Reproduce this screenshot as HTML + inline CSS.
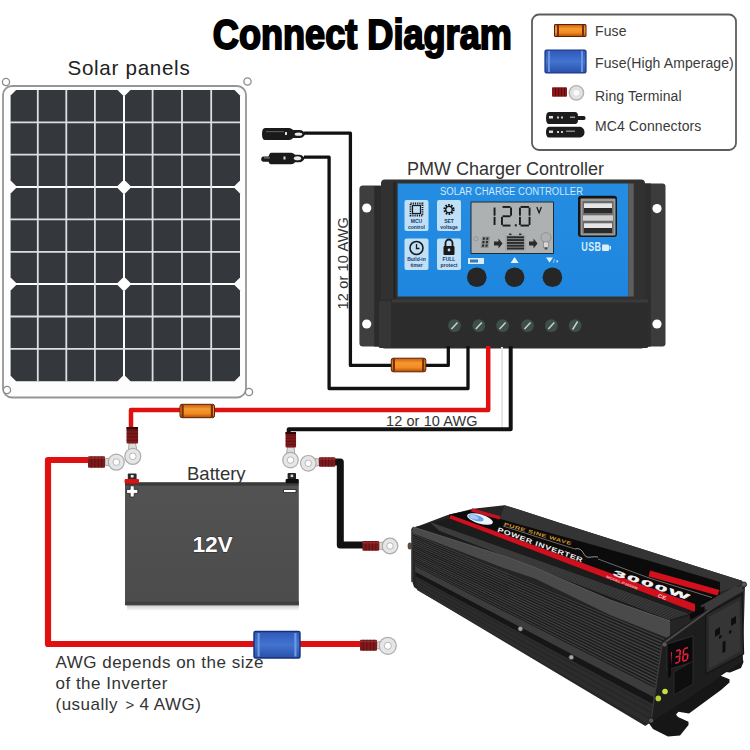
<!DOCTYPE html>
<html><head><meta charset="utf-8">
<style>
html,body{margin:0;padding:0;background:#fff;width:750px;height:750px;overflow:hidden}
svg{display:block}
text{font-family:"Liberation Sans",sans-serif}
</style></head>
<body>
<svg width="750" height="750" viewBox="0 0 750 750">
<defs>
<linearGradient id="fuseG" x1="0" y1="0" x2="0" y2="1">
<stop offset="0" stop-color="#c85a10"/><stop offset="0.35" stop-color="#f59a30"/><stop offset="0.7" stop-color="#f08a20"/><stop offset="1" stop-color="#b04a08"/>
</linearGradient>
<linearGradient id="blueFuseG" x1="0" y1="0" x2="0" y2="1">
<stop offset="0" stop-color="#2f58b8"/><stop offset="0.5" stop-color="#4274d0"/><stop offset="1" stop-color="#2a50a8"/>
</linearGradient>
<linearGradient id="batG" x1="0" y1="0" x2="0" y2="1">
<stop offset="0" stop-color="#3a3a3a"/><stop offset="0.025" stop-color="#3a3a3a"/><stop offset="0.03" stop-color="#525252"/><stop offset="1" stop-color="#4c4c4c"/>
</linearGradient>
<linearGradient id="blueP" x1="0" y1="0" x2="0" y2="1">
<stop offset="0" stop-color="#258ee2"/><stop offset="1" stop-color="#1e86de"/>
</linearGradient>
<g id="ring">
<circle r="7.5" fill="#e4e4e4" stroke="#9a9a9a" stroke-width="1.2"/>
<circle r="3.3" fill="#fff" stroke="#8a8a8a" stroke-width="1"/>
</g>
</defs>

<!-- ============ TITLE ============ -->
<text x="0" y="0" font-size="42.5" font-weight="bold" fill="#000" stroke="#000" stroke-width="2" transform="translate(212.8,48.6) scale(0.85,1)">Connect Diagram</text>

<!-- ============ LEGEND ============ -->
<rect x="532" y="14.5" width="204" height="135.5" rx="7" fill="#fff" stroke="#5c5c5c" stroke-width="1.8"/>
<rect x="554.5" y="24.5" width="31.5" height="12" rx="0.5" fill="url(#fuseG)" stroke="#5a2206" stroke-width="1"/>
<rect x="557" y="25" width="2" height="11" fill="#7a3008"/><rect x="582" y="25" width="2" height="11" fill="#7a3008"/>
<rect x="545" y="50" width="41" height="23" rx="1.5" fill="url(#blueFuseG)" stroke="#1a3580" stroke-width="1.2"/>
<rect x="548" y="51" width="2" height="21" fill="#6a95e0"/><rect x="581" y="51" width="2" height="21" fill="#6a95e0"/>
<rect x="552" y="87.2" width="15" height="9.6" rx="1" fill="#8a1818"/>
<rect x="555" y="88" width="1" height="8" fill="#5a0a0a"/><rect x="558" y="88" width="1" height="8" fill="#5a0a0a"/><rect x="561" y="88" width="1" height="8" fill="#5a0a0a"/><rect x="564" y="88" width="1" height="8" fill="#5a0a0a"/>
<circle cx="576.4" cy="92.8" r="7.2" fill="#e2e2e2" stroke="#b4b4b4" stroke-width="1.4"/>
<circle cx="576.4" cy="92.8" r="2.8" fill="#fafafa"/>
<path d="M549 112h26c2 0 3 1.5 3 4h6c1 0 1.5 1 1.5 2s-0.5 2-1.5 2h-6c0 2.5-1 4-3 4h-26c-2 0-3-2-3-6s1-6 3-6z" fill="#1c1c1c"/>
<rect x="549" y="116" width="4" height="2.5" fill="#ddd"/><rect x="557" y="116.5" width="2" height="2" fill="#ccc"/><rect x="561" y="116.5" width="2" height="2" fill="#ccc"/><rect x="570" y="116.5" width="5" height="1.5" fill="#999"/>
<path d="M549 126.8h30c3 0 5.5 2 5.5 5.4s-2.5 5.4-5.5 5.4h-30c-2 0-3-2.4-3-5.4s1-5.4 3-5.4z" fill="#1c1c1c"/>
<rect x="549" y="130.5" width="4" height="2.5" fill="#ddd"/><rect x="557" y="131" width="2" height="2" fill="#ccc"/><rect x="561" y="131" width="2" height="2" fill="#ccc"/><rect x="566" y="130.5" width="9" height="1.5" fill="#888"/>
<text x="595" y="36" font-size="14" fill="#3a3a3a" letter-spacing="0.1">Fuse</text>
<text x="595" y="67.5" font-size="14" fill="#3a3a3a" letter-spacing="0.1">Fuse(High Amperage)</text>
<text x="595" y="100.5" font-size="14" fill="#3a3a3a" letter-spacing="0.1">Ring Terminal</text>
<text x="595" y="130.5" font-size="14" fill="#3a3a3a" letter-spacing="0.1">MC4 Connectors</text>

<!-- ============ SOLAR PANEL ============ -->
<text x="67.5" y="74.5" font-size="20.6" fill="#222" letter-spacing="0.7">Solar panels</text>
<g id="panel">
<rect x="3" y="86" width="243" height="311.5" rx="9" fill="#fdfdfd" stroke="#959595" stroke-width="1.8"/>
<circle cx="6" cy="82" r="3.6" fill="#fff" stroke="#8a8a8a" stroke-width="1.3"/>
<circle cx="247.5" cy="81.5" r="3.6" fill="#fff" stroke="#8a8a8a" stroke-width="1.3"/>
<circle cx="7" cy="390" r="3.6" fill="#fff" stroke="#8a8a8a" stroke-width="1.3"/>
<circle cx="249" cy="392" r="3.6" fill="#fff" stroke="#8a8a8a" stroke-width="1.3"/>
<polygon points="16.1,90.0 117.5,90.0 123.0,95.5 123.0,180.5 117.5,186.0 16.1,186.0 10.6,180.5 10.6,95.5" fill="#34383c"/>
<polygon points="16.1,188.0 117.5,188.0 123.0,193.5 123.0,277.5 117.5,283.0 16.1,283.0 10.6,277.5 10.6,193.5" fill="#34383c"/>
<polygon points="16.1,285.0 117.5,285.0 123.0,290.5 123.0,375.7 117.5,381.2 16.1,381.2 10.6,375.7 10.6,290.5" fill="#34383c"/>
<polygon points="130.5,90.0 234.5,90.0 240.0,95.5 240.0,180.5 234.5,186.0 130.5,186.0 125.0,180.5 125.0,95.5" fill="#34383c"/>
<polygon points="130.5,188.0 234.5,188.0 240.0,193.5 240.0,277.5 234.5,283.0 130.5,283.0 125.0,277.5 125.0,193.5" fill="#34383c"/>
<polygon points="130.5,285.0 234.5,285.0 240.0,290.5 240.0,375.7 234.5,381.2 130.5,381.2 125.0,375.7 125.0,290.5" fill="#34383c"/>
<path d="M37.8 90V381.2 M66.3 90V381.2 M94.9 90V381.2 M152.6 90V381.2 M182.0 90V381.2 M211.2 90V381.2 M10 122.3H240 M10 154.7H240 M10 219.4H240 M10 251.8H240 M10 316.5H240 M10 348.8H240" stroke="#dedede" stroke-width="1.8" fill="none"/>
</g>

<!-- ============ CONTROLLER ============ -->
<text x="407" y="175" font-size="18" fill="#333">PMW Charger Controller</text>
<g id="ctrl">
<!-- flanges -->
<rect x="359.4" y="185.6" width="24" height="161" rx="3.5" fill="#3e3e3f"/>
<rect x="374.2" y="186" width="7.5" height="160.5" fill="#2b2b2b"/>
<circle cx="366.7" cy="208" r="4.6" fill="#fff"/>
<circle cx="366.7" cy="324" r="4.6" fill="#fff"/>
<rect x="641" y="183.5" width="24.5" height="163" rx="3" fill="#3c3c3c"/>
<rect x="643" y="183.5" width="8" height="163" fill="#2e2e2e"/>
<circle cx="657" cy="208.6" r="4.6" fill="#fff"/>
<circle cx="657" cy="324" r="4.6" fill="#fff"/>
<!-- main body -->
<rect x="381" y="179.5" width="264" height="169" rx="4" fill="#313132"/>
<rect x="393.5" y="182" width="2" height="118" fill="#222"/>
<!-- blue face -->
<rect x="397.7" y="183.5" width="230.5" height="113" fill="url(#blueP)"/>
<rect x="628.2" y="183.5" width="5.5" height="113" fill="#5e5e5e"/>
<text x="440" y="194.5" font-size="10" fill="#cfe8fb" textLength="143" lengthAdjust="spacingAndGlyphs">SOLAR CHARGE CONTROLLER</text>
<!-- icon boxes -->
<rect x="404.5" y="200" width="24" height="31" rx="2" fill="#bfe0f7"/>
<rect x="437" y="200" width="24" height="31" rx="2" fill="#bfe0f7"/>
<rect x="404.5" y="238.6" width="24" height="31.5" rx="2" fill="#bfe0f7"/>
<rect x="437" y="238.6" width="24" height="31.5" rx="2" fill="#bfe0f7"/>
<!-- MCU chip icon -->
<rect x="410.5" y="203.5" width="12" height="12" fill="none" stroke="#1a1a1a" stroke-width="1.8" stroke-dasharray="1.2 1"/>
<rect x="412.5" y="205.5" width="8" height="8" fill="none" stroke="#1a1a1a" stroke-width="1.2"/>
<text x="416.5" y="222.5" font-size="5" font-weight="bold" fill="#1a3a6a" text-anchor="middle">MCU</text>
<text x="416.5" y="228.5" font-size="5" font-weight="bold" fill="#1a3a6a" text-anchor="middle">control</text>
<!-- gear -->
<circle cx="449" cy="209.5" r="4.3" fill="none" stroke="#1a1a1a" stroke-width="2.6" stroke-dasharray="1.6 1.1"/>
<circle cx="449" cy="209.5" r="3.2" fill="none" stroke="#1a1a1a" stroke-width="1.3"/>
<text x="449" y="222.5" font-size="5" font-weight="bold" fill="#1a3a6a" text-anchor="middle">SET</text>
<text x="449" y="228.5" font-size="5" font-weight="bold" fill="#1a3a6a" text-anchor="middle">voltage</text>
<!-- clock -->
<circle cx="416.5" cy="248" r="6.5" fill="none" stroke="#1a1a1a" stroke-width="1.6"/>
<path d="M416.5 244v4.5h3" fill="none" stroke="#1a1a1a" stroke-width="1.3"/>
<text x="416.5" y="261" font-size="5" font-weight="bold" fill="#1a3a6a" text-anchor="middle">Build-in</text>
<text x="416.5" y="267" font-size="5" font-weight="bold" fill="#1a3a6a" text-anchor="middle">timer</text>
<!-- lock -->
<path d="M445.5 246v-3a3.5 3.5 0 0 1 7 0v3" fill="none" stroke="#1a1a1a" stroke-width="1.8"/>
<rect x="443.5" y="246" width="11" height="9" rx="1" fill="#1a1a1a"/>
<circle cx="449" cy="250" r="1.4" fill="#bfe0f7"/>
<text x="449" y="261" font-size="5" font-weight="bold" fill="#1a3a6a" text-anchor="middle">FULL</text>
<text x="449" y="267" font-size="5" font-weight="bold" fill="#1a3a6a" text-anchor="middle">protect</text>
<!-- LCD -->
<rect x="470.5" y="201.5" width="83.5" height="52.5" rx="1" fill="#1c2a3a"/>
<rect x="471.5" y="202.5" width="81.5" height="50.5" fill="#aeb1b1"/>
<rect x="493.60" y="207.55" width="1.90" height="8.10" fill="#1a1a1a"/>
<rect x="493.60" y="216.85" width="1.90" height="8.10" fill="#1a1a1a"/>
<rect x="502.55" y="206.00" width="7.90" height="1.90" fill="#1a1a1a"/>
<rect x="510.10" y="207.55" width="1.90" height="8.10" fill="#1a1a1a"/>
<rect x="502.55" y="215.30" width="7.90" height="1.90" fill="#1a1a1a"/>
<rect x="501.00" y="216.85" width="1.90" height="8.10" fill="#1a1a1a"/>
<rect x="502.55" y="224.60" width="7.90" height="1.90" fill="#1a1a1a"/>
<rect x="514.8" y="224.3" width="2" height="2" fill="#1a1a1a"/>
<rect x="520.55" y="206.00" width="8.40" height="1.90" fill="#1a1a1a"/>
<rect x="528.60" y="207.55" width="1.90" height="8.10" fill="#1a1a1a"/>
<rect x="528.60" y="216.85" width="1.90" height="8.10" fill="#1a1a1a"/>
<rect x="520.55" y="224.60" width="8.40" height="1.90" fill="#1a1a1a"/>
<rect x="519.00" y="216.85" width="1.90" height="8.10" fill="#1a1a1a"/>
<rect x="519.00" y="207.55" width="1.90" height="8.10" fill="#1a1a1a"/>
<path d="M536.8 207l2.3 5.8 2.3-5.8" fill="none" stroke="#1a1a1a" stroke-width="1.3"/>
<!-- lcd bottom row icons -->
<circle cx="475.8" cy="238.7" r="2.2" fill="none" stroke="#8a8c8c" stroke-width="0.7"/>
<g fill="#2a2a2a">
<path d="M482 236.5h8l-1.5 11.5h-8z" fill="#8f9292"/>
<path d="M483 237.5h2l-0.3 2.2h-2zM486.5 237.5h2l-0.3 2.2h-2zM482.6 241h2l-0.3 2.2h-2zM486.1 241h2l-0.3 2.2h-2zM482.2 244.5h2l-0.3 2.2h-2zM485.7 244.5h2l-0.3 2.2h-2z"/>
<path d="M494 241.5h4.5v-3l4 5-4 5v-3h-4.5z"/>
<rect x="509" y="233.6" width="2.5" height="1.5"/><rect x="519" y="233.6" width="2.5" height="1.5"/>
<rect x="505.5" y="235.3" width="20" height="15.3" fill="#9c9f9f"/>
<rect x="507" y="236.3" width="17" height="2"/><rect x="507" y="239.1" width="17" height="2"/><rect x="507" y="241.9" width="17" height="2"/><rect x="507" y="244.7" width="17" height="2"/><rect x="507" y="247.5" width="17" height="2"/>
<path d="M529 241.5h4.5v-3l4 5-4 5v-3h-4.5z"/>
<circle cx="546" cy="237.6" r="5" fill="none" stroke="#8a8c8c" stroke-width="0.8"/>
<rect x="543.6" y="242" width="4.8" height="5.5" fill="#d8d8d8" stroke="#6a6a6a" stroke-width="0.5"/>
<rect x="544.6" y="247.5" width="2.8" height="2" fill="#4a4a4a"/>
</g>
<!-- USB -->
<rect x="578" y="195.7" width="39" height="41.3" rx="3" fill="#151515"/>
<rect x="580.5" y="198.5" width="35" height="37" rx="1" fill="#9a9a9a"/>
<rect x="582.5" y="201" width="31" height="32.5" fill="#6a6a6a"/>
<rect x="584" y="203.3" width="28" height="4.7" fill="#e6e6e6"/>
<rect x="584" y="208" width="28" height="5" fill="#2a2a2a"/>
<rect x="583" y="215.3" width="30" height="5.4" fill="#cfcfcf"/>
<rect x="584" y="223.3" width="28" height="4.7" fill="#e6e6e6"/>
<rect x="584" y="228" width="28" height="5" fill="#2a2a2a"/>
<text x="0" y="0" font-size="12" font-weight="bold" fill="#d8ecfb" transform="translate(581.3,251.3) scale(0.75,1)" letter-spacing="0.5">USB</text>
<rect x="602" y="244.5" width="7" height="6.5" rx="1" fill="#d8ecfb"/>
<rect x="609.5" y="246" width="1.5" height="3.5" fill="#d8ecfb"/>
<!-- button labels -->
<rect x="468" y="258" width="16" height="6" fill="#d8ecfb"/>
<rect x="470" y="259.5" width="8" height="3" fill="#3a7ab8"/>
<path d="M514.6 257l4 6h-8z" fill="#e8f4fc"/>
<path d="M546 257.5h7l-3.5 5z" fill="#e8f4fc"/>
<text x="553" y="263" font-size="6" fill="#e8f4fc">/◑</text>
<!-- buttons -->
<circle cx="476.8" cy="277.3" r="9.8" fill="#262626"/>
<circle cx="514.6" cy="277.3" r="9.8" fill="#262626"/>
<circle cx="552.4" cy="277.3" r="9.8" fill="#262626"/>
<!-- terminal block -->
<rect x="378.5" y="299.5" width="270" height="48.5" rx="2" fill="#2c2c2c"/>
<rect x="379" y="301" width="12" height="46.5" rx="1.5" fill="#363636"/>
<rect x="392" y="299.5" width="256" height="3" fill="#3a3a3a"/>
<g>
<circle cx="454.5" cy="325.6" r="6.4" fill="#3e4e48"/>
<circle cx="478.8" cy="325.6" r="6.4" fill="#3e4e48"/>
<circle cx="502.6" cy="325.6" r="6.4" fill="#3e4e48"/>
<circle cx="527.5" cy="325.6" r="6.4" fill="#3e4e48"/>
<circle cx="551.3" cy="325.6" r="6.4" fill="#3e4e48"/>
<circle cx="575.1" cy="325.6" r="6.4" fill="#3e4e48"/>
</g>
<g stroke="#c8d0cc" stroke-width="1.5">
<path d="M451.5 329l6-6.5M475.8 329l6-6.5M499.6 329l6-6.5M524.5 329l6-6.5M548.3 329l6-6.5M572.6 329.5l5-8"/>
</g>

</g>

<!-- ============ WIRES ============ -->
<g id="wires">
<path d="M502 347V430" fill="none" stroke="#e6e6e6" stroke-width="2" stroke-linejoin="round"/>
<path d="M304 133.2H350.4V365.4H448.3V346" fill="none" stroke="#111" stroke-width="3.3" stroke-linejoin="round"/>
<path d="M304 157.2H329.1V388.5H468V346" fill="none" stroke="#111" stroke-width="3.3" stroke-linejoin="round"/>
<rect x="391.3" y="358.2" width="34.5" height="13.600000000000023" rx="2" fill="url(#fuseG)" stroke="#5a2206" stroke-width="1"/><rect x="392.8" y="358.7" width="2.2" height="12.600000000000023" fill="#7a3008"/><rect x="422.1" y="358.7" width="2.2" height="12.600000000000023" fill="#7a3008"/>
<path d="M488.2 346V410H131V428" fill="none" stroke="#e01010" stroke-width="4.5" stroke-linejoin="round"/>
<rect x="180" y="404.3" width="34.5" height="13.399999999999977" rx="2" fill="url(#fuseG)" stroke="#5a2206" stroke-width="1"/><rect x="181.5" y="404.8" width="2.2" height="12.399999999999977" fill="#7a3008"/><rect x="210.8" y="404.8" width="2.2" height="12.399999999999977" fill="#7a3008"/>
<polygon points="129.1,443.1 135.5,442.9 137.8,456.1 127.8,456.5" fill="#dcdcdc" stroke="#a8a8a8" stroke-width="1"/><circle cx="132.8" cy="456.3" r="8" fill="#e6e6e6" stroke="#acacac" stroke-width="1.2"/><circle cx="132.8" cy="456.3" r="3.36" fill="#fdfdfd" stroke="#a8a8a8" stroke-width="0.8"/>
<rect x="126.55000000000001" y="427" width="11.5" height="16.5" rx="1" fill="#7e1a1c"/><rect x="126.55000000000001" y="429.8" width="11.5" height="1" fill="#4e0c0e" opacity="0.6"/><rect x="126.55000000000001" y="433.1" width="11.5" height="1" fill="#4e0c0e" opacity="0.6"/><rect x="126.55000000000001" y="436.4" width="11.5" height="1" fill="#4e0c0e" opacity="0.6"/><rect x="126.55000000000001" y="439.7" width="11.5" height="1" fill="#4e0c0e" opacity="0.6"/>
<rect x="126.5" y="427" width="11.5" height="2.2" fill="#2a0808"/>
<path d="M510.7 346V429.3H288.7V433" fill="none" stroke="#111" stroke-width="4" stroke-linejoin="round"/>
<polygon points="287.6,446.9 294.0,447.1 295.5,460.2 285.5,460.0" fill="#dcdcdc" stroke="#a8a8a8" stroke-width="1"/><circle cx="290.5" cy="460.1" r="7.8" fill="#e6e6e6" stroke="#acacac" stroke-width="1.2"/><circle cx="290.5" cy="460.1" r="3.28" fill="#fdfdfd" stroke="#a8a8a8" stroke-width="0.8"/>
<rect x="285.55" y="432" width="10.5" height="15.5" rx="1" fill="#7e1a1c"/><rect x="285.55" y="434.6" width="10.5" height="1" fill="#4e0c0e" opacity="0.6"/><rect x="285.55" y="437.7" width="10.5" height="1" fill="#4e0c0e" opacity="0.6"/><rect x="285.55" y="440.8" width="10.5" height="1" fill="#4e0c0e" opacity="0.6"/><rect x="285.55" y="443.9" width="10.5" height="1" fill="#4e0c0e" opacity="0.6"/>
<rect x="285.5" y="432" width="10.5" height="2" fill="#2a0808"/>
<polygon points="318.6,458.8 319.4,465.2 308.9,468.3 307.7,458.3" fill="#dcdcdc" stroke="#a8a8a8" stroke-width="1"/><circle cx="308.3" cy="463.3" r="7.8" fill="#e6e6e6" stroke="#acacac" stroke-width="1.2"/><circle cx="308.3" cy="463.3" r="3.28" fill="#fdfdfd" stroke="#a8a8a8" stroke-width="0.8"/>
<path d="M334 462H340.3V545H364" fill="none" stroke="#111" stroke-width="7" stroke-linejoin="round"/>
<rect x="318.9" y="457.3" width="16.400000000000034" height="9.4" rx="1" fill="#7e1a1c"/><rect x="321.7" y="457.3" width="1" height="9.4" fill="#4e0c0e" opacity="0.6"/><rect x="325.0" y="457.3" width="1" height="9.4" fill="#4e0c0e" opacity="0.6"/><rect x="328.2" y="457.3" width="1" height="9.4" fill="#4e0c0e" opacity="0.6"/><rect x="331.5" y="457.3" width="1" height="9.4" fill="#4e0c0e" opacity="0.6"/><rect x="318.9" y="458.3" width="16.400000000000034" height="1.5" fill="#b04040" opacity="0.5"/>
<polygon points="378.9,549.0 379.1,542.6 390.1,541.0 389.9,551.0" fill="#dcdcdc" stroke="#a8a8a8" stroke-width="1"/><circle cx="390" cy="546" r="7.8" fill="#e6e6e6" stroke="#acacac" stroke-width="1.2"/><circle cx="390" cy="546" r="3.28" fill="#fdfdfd" stroke="#a8a8a8" stroke-width="0.8"/>
<rect x="362.4" y="540.9499999999999" width="16.80000000000001" height="9.7" rx="1" fill="#7e1a1c"/><rect x="365.3" y="540.9499999999999" width="1" height="9.7" fill="#4e0c0e" opacity="0.6"/><rect x="368.6" y="540.9499999999999" width="1" height="9.7" fill="#4e0c0e" opacity="0.6"/><rect x="372.0" y="540.9499999999999" width="1" height="9.7" fill="#4e0c0e" opacity="0.6"/><rect x="375.3" y="540.9499999999999" width="1" height="9.7" fill="#4e0c0e" opacity="0.6"/><rect x="362.4" y="541.9499999999999" width="16.80000000000001" height="1.5" fill="#b04040" opacity="0.5"/>
<path d="M88 460H48V644H362" fill="none" stroke="#e01010" stroke-width="6.2" stroke-linejoin="round"/>
<polygon points="105.0,465.2 105.0,458.8 116.3,457.1 116.3,467.1" fill="#dcdcdc" stroke="#a8a8a8" stroke-width="1"/><circle cx="116.3" cy="462.1" r="8" fill="#e6e6e6" stroke="#acacac" stroke-width="1.2"/><circle cx="116.3" cy="462.1" r="3.36" fill="#fdfdfd" stroke="#a8a8a8" stroke-width="0.8"/>
<rect x="88" y="456.25" width="17" height="11.5" rx="1" fill="#7e1a1c"/><rect x="90.9" y="456.25" width="1" height="11.5" fill="#4e0c0e" opacity="0.6"/><rect x="94.3" y="456.25" width="1" height="11.5" fill="#4e0c0e" opacity="0.6"/><rect x="97.7" y="456.25" width="1" height="11.5" fill="#4e0c0e" opacity="0.6"/><rect x="101.1" y="456.25" width="1" height="11.5" fill="#4e0c0e" opacity="0.6"/><rect x="88" y="457.25" width="17" height="1.5" fill="#b04040" opacity="0.5"/>
<rect x="254" y="631.5" width="46" height="26.5" rx="1.5" fill="url(#blueFuseG)" stroke="#14307a" stroke-width="1.4"/>
<rect x="257.5" y="633" width="2.2" height="23.5" fill="#6d98e2"/><rect x="294.3" y="633" width="2.2" height="23.5" fill="#6d98e2"/>
<polygon points="376.8,648.4 377.2,642.0 388.1,640.8 387.5,650.8" fill="#dcdcdc" stroke="#a8a8a8" stroke-width="1"/><circle cx="387.8" cy="645.8" r="8.5" fill="#e6e6e6" stroke="#acacac" stroke-width="1.2"/><circle cx="387.8" cy="645.8" r="3.57" fill="#fdfdfd" stroke="#a8a8a8" stroke-width="0.8"/>
<rect x="360" y="639.7" width="17" height="11" rx="1" fill="#7e1a1c"/><rect x="362.9" y="639.7" width="1" height="11" fill="#4e0c0e" opacity="0.6"/><rect x="366.3" y="639.7" width="1" height="11" fill="#4e0c0e" opacity="0.6"/><rect x="369.7" y="639.7" width="1" height="11" fill="#4e0c0e" opacity="0.6"/><rect x="373.1" y="639.7" width="1" height="11" fill="#4e0c0e" opacity="0.6"/><rect x="360" y="640.7" width="17" height="1.5" fill="#b04040" opacity="0.5"/>
<g>
<path d="M265 128h24c2 0 3 1 4 2h6.5c3 0 5 2 5.5 4 -0.5 2 -2.5 4 -5.5 4h-6.5c-1 1-2 2-4 2h-24c-2 0-3-2-3-6s1-6 3-6z" fill="#1a1a1a"/>
<rect x="266" y="131" width="18" height="1.2" fill="#555"/>
<rect x="285" y="132" width="2" height="3" fill="#ddd"/>
<ellipse cx="298.5" cy="134.2" rx="3.8" ry="1.6" fill="#e8e8e8"/>
<path d="M271 152.8h20c2 0 3 1 4 2h4c3 0 5 2 5.5 3.5 -0.5 2 -2.5 4 -5.5 4h-4c-1 1-2 2-4 2h-20c-1.5 0-2-1.5-2.5-2.5h-5c-1.5 0-2.3-1.3-2.3-2.6s0.8-2.6 2.3-2.6h5c0.5-1.5 1-3.3 2.5-3.8z" fill="#1a1a1a"/>
<rect x="264" y="157.2" width="6" height="1.4" fill="#6a6a6a"/>
<rect x="283.5" y="156.5" width="2" height="3" fill="#ddd"/>
<ellipse cx="297.5" cy="158.3" rx="3.6" ry="2" fill="#e8e8e8"/>
</g>
</g>

<!-- ============ BATTERY ============ -->
<text x="187" y="480" font-size="18.5" fill="#333">Battery</text>
<linearGradient id="shadowG" x1="0" y1="0" x2="0" y2="1"><stop offset="0" stop-color="#c8c8c8"/><stop offset="1" stop-color="#fff"/></linearGradient>
<rect x="127" y="605" width="172" height="6" fill="url(#shadowG)"/>
<rect x="125" y="482.2" width="173.8" height="123" fill="url(#batG)"/>
<rect x="125" y="601.5" width="173.8" height="3.7" fill="#3e3e3e"/>
<rect x="127.8" y="473.4" width="8.8" height="6.5" rx="1" fill="#2a2a2a"/><rect x="130.8" y="475" width="2.8" height="2.5" fill="#eee"/>
<rect x="124.6" y="479" width="14.4" height="4.4" rx="1" fill="#e01010"/>
<path d="M130.2 485.8h4v3.6h3.6v4h-3.6v3.6h-4v-3.6h-3.6v-4h3.6z" fill="#fff" stroke="#222" stroke-width="0.8"/>
<rect x="287.6" y="473" width="8.4" height="6.5" rx="1" fill="#222"/><rect x="290.6" y="474.6" width="2.6" height="2.5" fill="#ddd"/>
<rect x="285.6" y="479" width="13.2" height="4.2" rx="1" fill="#0e0e0e"/>
<rect x="283.6" y="489.6" width="12.4" height="3" fill="#fff" stroke="#222" stroke-width="0.8"/>
<text x="192.6" y="551.6" font-size="22.8" font-weight="bold" fill="#fff" stroke="#2a2a2a" stroke-width="1.2" paint-order="stroke" letter-spacing="-0.2">12V</text>

<!-- ============ TEXT BOTTOM ============ -->
<text x="55.5" y="668.3" font-size="17" fill="#333" letter-spacing="0.5">AWG depends on the size</text>
<text x="55.5" y="689.2" font-size="17" fill="#333" letter-spacing="0.5">of the Inverter</text>
<text x="55.5" y="710" font-size="17" fill="#333" letter-spacing="0.5">(usually<tspan x="125.5" font-size="15">&gt;</tspan><tspan x="139.5">4 AWG)</tspan></text>
<text x="386" y="426" font-size="14.5" fill="#333" letter-spacing="0.1">12 or 10 AWG</text>
<text transform="translate(347.8,309.4) rotate(-90)" font-size="14.5" fill="#333" letter-spacing="0.15">12 or 10 AWG</text>

<!-- ============ INVERTER ============ -->
<g id="inv">
<polygon points="646.0,716.0 648.0,722.0 653.0,729.0 668.0,736.5 680.0,735.5 688.5,725.0 688.5,721.8 678.0,717.0 676.0,714.5 678.5,711.8 689.0,713.5 721.0,690.0 729.5,682.5 729.5,679.3 720.0,675.5 718.5,673.5 721.0,671.5 730.0,672.5 741.0,668.0 743.5,662.0 742.0,655.0" fill="#161616"/>
<polygon points="411.7,528.0 420.0,525.5 447.0,515.3 473.0,508.7 504.5,505.3 520.0,510.0 560.0,523.0 620.0,542.0 700.0,567.5 742.0,580.8 745.0,584.5 744.0,620.0 742.5,661.0 700.0,690.0 651.0,722.0 645.3,726.0 421.0,592.0 414.0,587.0 411.7,580.0" fill="#252525"/>
<polygon points="412.0,528.0 449.0,518.2 695.0,612.0 690.0,616.0 670.0,621.0 610.0,600.0 535.0,567.6 505.0,556.4 413.0,527.0" fill="#1c1c1c"/>
<path d="M431.1 523.0L687.6 614.3" stroke="#3e3e3e" stroke-width="1.1"/>
<path d="M432.2 524.0L685.1 615.0" stroke="#3e3e3e" stroke-width="1.1"/>
<path d="M433.3 525.0L682.7 615.8" stroke="#3e3e3e" stroke-width="1.1"/>
<path d="M434.4 526.0L680.2 616.5" stroke="#3e3e3e" stroke-width="1.1"/>
<path d="M435.6 527.0L677.8 617.3" stroke="#3e3e3e" stroke-width="1.1"/>
<path d="M436.7 528.0L675.3 618.0" stroke="#3e3e3e" stroke-width="1.1"/>
<path d="M437.8 529.0L672.9 618.8" stroke="#3e3e3e" stroke-width="1.1"/>
<path d="M438.9 530.0L670.4 619.5" stroke="#3e3e3e" stroke-width="1.1"/>
<polygon points="504.5,505.3 520.0,510.0 560.0,523.0 620.0,542.0 700.0,567.5 742.0,580.8 742.0,585.0 720.0,592.0 650.0,570.0 590.0,547.0 500.0,519.0" fill="#343434"/>
<polygon points="449.0,514.5 473.0,509.8 500.0,519.0 590.0,544.0 650.0,561.0 720.0,582.0 720.0,594.0 695.0,612.0 449.0,518.2" fill="#0b0b0b"/>
<polygon points="450.8,515.0 695.0,604.0 695.0,612.0 449.0,518.2" fill="#d0101c"/>
<polygon points="472.0,508.3 500.5,516.3 499.5,519.5 471.0,511.5" fill="#c81020"/>
<polygon points="650.0,570.5 719.5,590.0 717.5,595.5 648.5,576.5" fill="#d3101c"/>
<path d="M503 526L575 549M598 559L650 578.3L712 597.5" stroke="#aaa" stroke-width="0.6" fill="none"/>
<ellipse cx="480" cy="519" rx="13.3" ry="4.6" fill="#eef4fb" transform="rotate(16 480 519)"/>
<ellipse cx="476" cy="517.8" rx="8" ry="3" fill="#6aa4e6" transform="rotate(16 476 517.8)"/>
<ellipse cx="474" cy="517.2" rx="4.5" ry="2" fill="#a8ccf2" transform="rotate(16 474 517.2)"/>
<text x="0" y="0" font-size="4.8" font-weight="bold" fill="#d8962a" transform="matrix(1.5 0.44 -0.3 0.95 503.5 525.5)" letter-spacing="0.3">PURE SINE WAVE</text>
<text x="0" y="0" font-size="6.6" font-weight="bold" fill="#f2f2f2" transform="matrix(1.3 0.47 -0.3 0.95 497 531.5)" letter-spacing="0.4">POWER INVERTER</text>
<text x="0" y="0" font-size="9.6" font-weight="bold" fill="#f4f4f4" stroke="#f4f4f4" stroke-width="0.4" transform="matrix(2.22 0.73 -0.36 0.76 612.5 575)" letter-spacing="0.9">3000W</text>
<text x="0" y="0" font-size="3.5" font-weight="bold" fill="#f0b0b0" transform="matrix(1.15 0.44 -0.3 0.95 606 577.8)">MODEL:P3000W</text>
<text x="0" y="0" font-size="5" font-weight="bold" fill="#f6d0d0" transform="matrix(1.2 0.45 -0.3 0.95 657.5 597)">CE</text>
<path d="M575 549c3 -1 5 0 7 2s2 5 5 6s6 -1 11 0" stroke="#ccc" stroke-width="0.7" fill="none"/>
<polygon points="413.0,527.0 505.0,556.4 535.0,567.6 610.0,600.0 670.0,621.0 670.0,639.0 610.0,615.0 535.0,578.5 505.0,568.4 412.0,533.0" fill="#4a4a4a"/>
<polyline points="413.0,527.0 505.0,556.4 535.0,567.6 610.0,600.0 670.0,621.0" fill="none" stroke="#585858" stroke-width="1"/>
<polygon points="412.0,533.0 667.0,639.5 656.0,688.5 414.9,566.1" fill="#1c1c1c"/>
<polygon points="412.0,533.3 666.9,640.0 666.6,641.3 412.1,534.2" fill="#414141"/>
<polygon points="412.2,535.4 666.2,643.0 665.9,644.4 412.3,536.3" fill="#414141"/>
<polygon points="412.4,537.4 665.5,646.1 665.2,647.5 412.5,538.4" fill="#414141"/>
<polygon points="412.6,539.5 664.8,649.1 664.5,650.5 412.7,540.4" fill="#414141"/>
<polygon points="412.8,541.6 664.1,652.2 663.8,653.6 412.8,542.5" fill="#414141"/>
<polygon points="412.9,543.6 663.5,655.3 663.1,656.7 413.0,544.6" fill="#414141"/>
<polygon points="413.1,545.7 662.8,658.3 662.5,659.7 413.2,546.6" fill="#414141"/>
<polygon points="413.3,547.8 662.1,661.4 661.8,662.8 413.4,548.7" fill="#414141"/>
<polygon points="413.5,549.8 661.4,664.5 661.1,665.8 413.6,550.8" fill="#414141"/>
<polygon points="413.7,551.9 660.7,667.5 660.4,668.9 413.7,552.8" fill="#414141"/>
<polygon points="413.8,554.0 660.0,670.6 659.7,672.0 413.9,554.9" fill="#414141"/>
<polygon points="414.0,556.0 659.3,673.7 659.0,675.0 414.1,557.0" fill="#414141"/>
<polygon points="414.2,558.1 658.6,676.7 658.3,678.1 414.3,559.0" fill="#414141"/>
<polygon points="414.4,560.2 657.9,679.8 657.6,681.2 414.5,561.1" fill="#414141"/>
<polygon points="414.6,562.2 657.3,682.8 656.9,684.2 414.6,563.2" fill="#414141"/>
<polygon points="414.7,564.3 656.6,685.9 656.3,687.3 414.8,565.2" fill="#414141"/>
<polygon points="414.9,566.1 656.0,688.5 654.0,697.4 415.4,572.0" fill="#3c3c3c"/>
<polygon points="415.4,572.0 654.0,697.4 652.5,704.1 415.8,576.6" fill="#161616"/>
<polygon points="415.8,576.6 652.5,704.1 648.0,724.0 417.0,590.0" fill="#2c2c2c"/>
<path d="M416.0 578.6L651.8 707.1" stroke="#242424" stroke-width="1"/>
<path d="M416.3 582.3L650.6 712.6" stroke="#242424" stroke-width="1"/>
<path d="M416.6 586.0L649.3 718.1" stroke="#242424" stroke-width="1"/>
<circle cx="520.4" cy="628.8" r="2.5" fill="#a8a8a8" stroke="#2a2a2a" stroke-width="0.7"/>
<circle cx="571.3" cy="657.3" r="2.5" fill="#a8a8a8" stroke="#2a2a2a" stroke-width="0.7"/>
<ellipse cx="409.8" cy="546" rx="2.2" ry="3.5" fill="#5a4a40"/>
<path d="M412 529V582" stroke="#3a3a3a" stroke-width="1.5"/>
<polygon points="662.0,641.0 742.7,585.0 742.5,661.0 651.0,722.0" fill="#1d1d1d"/>
<path d="M664 643L742.7 586" stroke="#4a4a4a" stroke-width="2"/>
<path d="M662 645L651 720" stroke="#3a3a3a" stroke-width="1.5"/>
<polygon points="700.0,606.0 736.0,586.0 745.0,590.0 709.0,611.0" fill="#3a3a3a"/>
<polygon points="705.8,614.5 742.0,594.5 743.6,654.0 705.8,674.0" fill="#2a2a2a" stroke="#141414" stroke-width="1.2"/>
<polygon points="709.0,617.0 739.5,600.0 740.5,651.0 709.0,669.0" fill="#353535"/>
<path d="M715 630l5 -3v7l-5 3z M731 619l5 -3v7l-5 3z M722.5 642l3 -1.5v11l-3 1.5z M719 636l2.5 -1.2v3l-2.5 1.2z M729 631l2.5 -1.2v3l-2.5 1.2z" fill="#0e0e0e"/>
<polygon points="667.0,644.0 693.0,636.0 693.0,662.0 667.0,670.0" fill="#0a0a0a" stroke="#333" stroke-width="0.8"/>
<g transform="matrix(1 -0.28 -0.08 1 669.5 652)"><rect x="0.6" y="0.8" width="2" height="12.4" fill="#f0203e"/><rect x="6.70" y="0.00" width="3.80" height="1.60" fill="#f0203e"/><rect x="10.10" y="1.20" width="1.60" height="5.40" fill="#f0203e"/><rect x="6.70" y="6.20" width="3.80" height="1.60" fill="#f0203e"/><rect x="10.10" y="7.40" width="1.60" height="5.40" fill="#f0203e"/><rect x="6.70" y="12.40" width="3.80" height="1.60" fill="#f0203e"/><rect x="14.70" y="0.00" width="3.80" height="1.60" fill="#f0203e"/><rect x="13.50" y="1.20" width="1.60" height="5.40" fill="#f0203e"/><rect x="14.70" y="6.20" width="3.80" height="1.60" fill="#f0203e"/><rect x="13.50" y="7.40" width="1.60" height="5.40" fill="#f0203e"/><rect x="14.70" y="12.40" width="3.80" height="1.60" fill="#f0203e"/><rect x="18.10" y="7.40" width="1.60" height="5.40" fill="#f0203e"/></g>
<polygon points="690.0,614.0 704.5,606.0 704.5,612.0 690.0,620.0" fill="#0a0a0a"/>
<polygon points="668.0,651.0 671.0,649.0 671.0,676.0 668.0,678.0" fill="#0a0a0a"/>
<polygon points="674.0,672.0 693.0,661.0 693.0,684.0 674.0,695.0" fill="#0e0e0e" stroke="#2e2e2e" stroke-width="0.8"/>
<circle cx="665" cy="691.5" r="2.8" fill="#c8e040"/><circle cx="658.3" cy="698.4" r="2.8" fill="#b8d030"/>
<circle cx="664.5" cy="644.4" r="2.6" fill="#5a5a5a" stroke="#1a1a1a" stroke-width="0.8"/>
<circle cx="651" cy="720.5" r="2.6" fill="#5a5a5a" stroke="#1a1a1a" stroke-width="0.8"/>
<circle cx="744" cy="584.5" r="2.6" fill="#5a5a5a" stroke="#1a1a1a" stroke-width="0.8"/>
</g>
</svg>
</body></html>
